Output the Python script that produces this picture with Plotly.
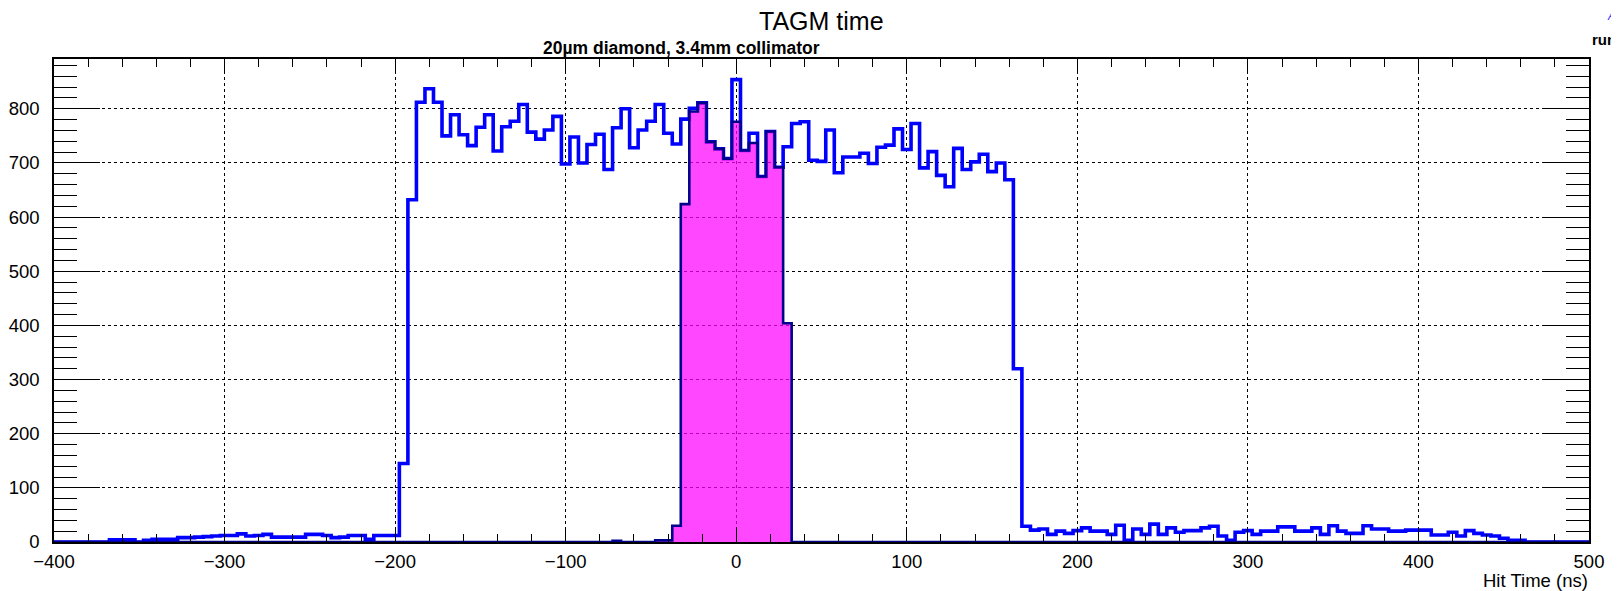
import numpy as np
import plotly.graph_objects as go

# ---------------- data ----------------
bin_width = 5.0
first_center = -400.0

# all hits (blue), bins centred on -400, -395, ..., 500
counts_all = [
    0, 0, 0, 0, 0, 0, 0,                                  # -400 .. -370
    4, 4, 4, 0, 3, 5, 5, 5, 8, 8, 9, 10, 11,              # -365 .. -305
    12, 12, 15, 11, 12, 14, 9, 9, 9, 9, 14, 14, 12, 8,    # -300 .. -235
    9, 12, 12, 5, 12, 12, 12,                             # -230 .. -200
    145,                                                  # -195
    632, 812, 837, 812, 750, 789, 752, 732, 766, 789,     # -190 .. -145
    722, 767, 777, 808, 757, 744, 761, 786, 698, 748,     # -140 .. -95
    700, 734, 753, 688, 765, 800, 728, 761, 777, 808,     # -90 .. -45
    755, 735, 781, 801, 811, 739, 726, 708, 854, 723,     # -40 .. 5
    755, 675, 758, 692, 730, 773, 776, 705, 703, 761,     # 10 .. 55
    682, 711, 711, 718, 699, 729, 733, 763, 725, 773,     # 60 .. 105
    691, 721, 677, 656, 727, 688, 702, 716, 684, 700,     # 110 .. 155
    669, 320,                                             # 160 .. 165
    29, 22, 24, 14, 20, 16, 21, 26, 20, 20, 14, 31, 3,    # 170 .. 230
    24, 14, 33, 14, 26, 18, 21, 21, 26, 29, 11, 3, 18,    # 235 .. 295
    21, 14, 20, 20, 28, 28, 20, 20, 26, 14, 30, 20, 16,   # 300 .. 360
    16, 30, 24, 24, 20, 20, 22, 22, 22, 13, 13, 18, 11,   # 365 .. 425
    21, 16, 13, 11, 7, 3, 3, 0, 0, 0, 0, 0, 0, 0, 0,      # 430 .. 500
]

# selected hits (magenta), same binning
sel_centers = [-70, -45, -40, -35, -30, -25, -20, -15, -10, -5, 0, 5, 10, 15, 20, 25, 30]
sel_values = [2, 3, 3, 30, 624, 795, 811, 739, 726, 708, 776, 723, 737, 675, 758, 692, 404]

x_tick_vals = [-400, -300, -200, -100, 0, 100, 200, 300, 400, 500]
y_tick_vals = [0, 100, 200, 300, 400, 500, 600, 700, 800]

title_text = "TAGM time"
subtitle_text = "20\u00b5m diamond, 3.4mm collimator"
x_title = "Hit Time (ns)"
corner_text = "run"
corner_mark = "A"

# ---------------- build ----------------
n_bins = len(counts_all)
centers = first_center + bin_width * np.arange(n_bins)
edges = np.append(centers - bin_width / 2, centers[-1] + bin_width / 2)

counts_sel = np.zeros(n_bins)
for c, v in zip(sel_centers, sel_values):
    counts_sel[int(round((c - first_center) / bin_width))] = v


def step_xy(vals):
    ys = list(vals) + [vals[-1]]
    return list(edges), ys


fig = go.Figure()
bx, by = step_xy(counts_all)
fig.add_trace(go.Scatter(x=bx, y=by, mode="lines", line_shape="hv",
                         line=dict(color="#0000ff", width=3.6),
                         hoverinfo="skip", showlegend=False))
sx, sy = step_xy(list(counts_sel))
fig.add_trace(go.Scatter(x=sx, y=sy, mode="lines", line_shape="hv",
                         line=dict(color="#00008c", width=2.6),
                         fill="tozeroy", fillcolor="rgba(255,0,255,0.72)",
                         hoverinfo="skip", showlegend=False))

# the page body has an 8 px margin: compensate so the frame lands where it should
OFF = 8
W, H = 1619 - OFF, 591 - OFF
# target frame (page pixels): left 54, right 1589, top 59, bottom 542
L, R, T, B = 54 - OFF, 1619 - 1589, 59 - OFF, 591 - 542
pw = W - L - R
ph = H - T - B


def px_x(p):  # page pixel -> paper x
    return (p - OFF - L) / pw


def px_y(p):  # page pixel -> paper y
    return 1 - (p - OFF - T) / ph


font_family = "Liberation Sans, Arial, Helvetica, sans-serif"

fig.update_layout(
    width=W, height=H, autosize=False,
    margin=dict(l=L, r=R, t=T, b=B, pad=0, autoexpand=False),
    paper_bgcolor="white", plot_bgcolor="white",
    font=dict(family=font_family, size=18.5, color="black"),
    showlegend=False,
)

fig.update_xaxes(
    range=[-400, 500], tickvals=x_tick_vals, automargin=False,
    ticks="inside", ticklen=15, tickwidth=1.3, tickcolor="black",
    minor=dict(ticks="inside", ticklen=8, dtick=20, tickwidth=1.3, tickcolor="black", showgrid=False),
    showgrid=True, gridcolor="black", griddash="dot", gridwidth=1,
    showline=True, linecolor="black", linewidth=1.5, mirror="allticks",
    zeroline=False, tickfont=dict(size=18.5, family=font_family),
    ticklabelstandoff=2,
)
fig.update_yaxes(
    range=[0, 892], tickvals=y_tick_vals, automargin=False,
    ticks="inside", ticklen=46, tickwidth=1.3, tickcolor="black",
    minor=dict(ticks="inside", ticklen=23, dtick=20, tickwidth=1.3, tickcolor="black", showgrid=False),
    showgrid=True, gridcolor="black", griddash="dot", gridwidth=1,
    showline=True, linecolor="black", linewidth=1.5, mirror="allticks",
    zeroline=False, tickfont=dict(size=18.5, family=font_family),
    ticklabelstandoff=9,
)

annotations = [
    dict(text=title_text, xref="paper", yref="paper", x=px_x(821), y=px_y(21),
         xanchor="center", yanchor="middle", showarrow=False,
         font=dict(size=25, family=font_family, color="black")),
    dict(text="<b>" + subtitle_text + "</b>", xref="paper", yref="paper", x=px_x(681),
         y=px_y(48), xanchor="center", yanchor="middle", showarrow=False,
         font=dict(size=17.5, family=font_family, color="black")),
    dict(text=x_title, xref="paper", yref="paper", x=px_x(1590), y=px_y(580),
         xanchor="right", yanchor="middle", showarrow=False,
         font=dict(size=18.5, family=font_family, color="black")),
    dict(text="<b>" + corner_text + "</b>", xref="paper", yref="paper", x=px_x(1618), y=px_y(39),
         xanchor="right", yanchor="middle", showarrow=False,
         font=dict(size=15, family=font_family, color="black")),
    dict(text="<i>" + corner_mark + "</i>", xref="paper", yref="paper", x=px_x(1618), y=px_y(16),
         xanchor="right", yanchor="middle", showarrow=False,
         font=dict(size=12, family=font_family, color="#3030ff")),
]
fig.update_layout(annotations=annotations)

fig.write_html("out.html")
